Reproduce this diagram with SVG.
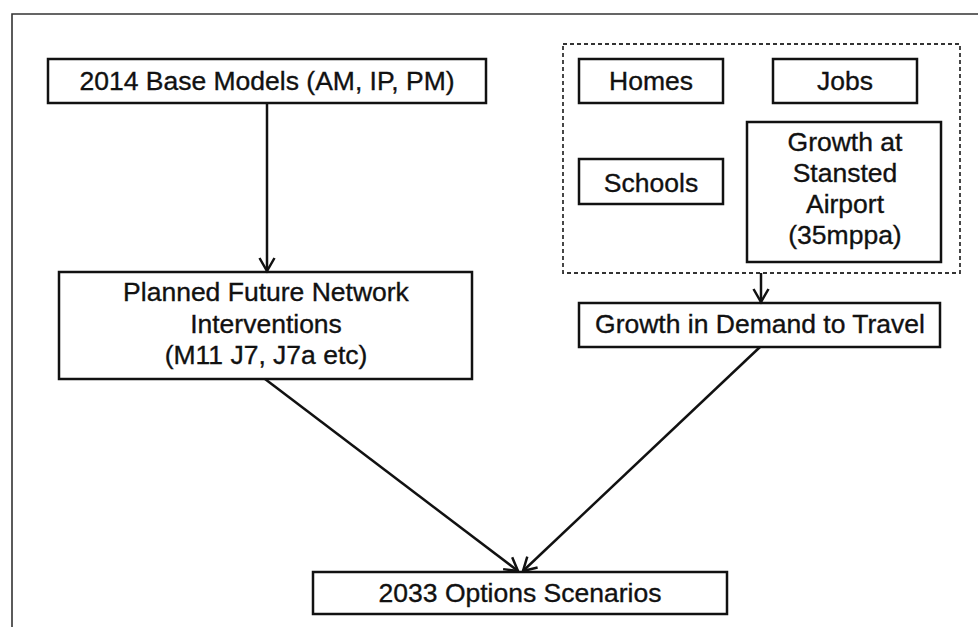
<svg xmlns="http://www.w3.org/2000/svg" width="978" height="627" viewBox="0 0 978 627">
<style>
.box{fill:#fff;stroke:#111;stroke-width:2.5}
.t{font-family:"Liberation Sans",Arial,sans-serif;font-size:26.5px;fill:#111;stroke:#111;stroke-width:0.35;text-anchor:middle}
.c{fill:none;stroke:#111;stroke-width:2.5}
.frame{fill:none;stroke:#333;stroke-width:1.6}
.dash{fill:none;stroke:#333;stroke-width:1.8;stroke-dasharray:4 3}
</style>
<defs>
<marker id="arr" markerWidth="18" markerHeight="18" refX="15" refY="9" orient="auto" markerUnits="userSpaceOnUse">
<path d="M2,1.5 L15,9 L2,16.5" fill="none" stroke="#111" stroke-width="2.5"/>
</marker>
</defs>
<rect width="978" height="627" fill="#fff"/>
<path class="frame" d="M12,627 V14 H978"/>
<g id="base"><rect class="box" x="48" y="59" width="438" height="44"/><text class="t" x="267" y="90">2014 Base Models (AM, IP, PM)</text></g>
<g id="planned"><rect class="box" x="59" y="272" width="413" height="107"/>
<text class="t" x="266" y="301">Planned Future Network</text>
<text class="t" x="266" y="333">Interventions</text>
<text class="t" x="266" y="364">(M11 J7, J7a etc)</text></g>
<g id="inputs"><rect class="dash" x="563" y="44" width="397" height="229"/></g>
<g id="homes"><rect class="box" x="579" y="59" width="144" height="44"/><text class="t" x="651" y="90">Homes</text></g>
<g id="jobs"><rect class="box" x="773" y="59" width="144" height="44"/><text class="t" x="845" y="90">Jobs</text></g>
<g id="schools"><rect class="box" x="579" y="159" width="144" height="45"/><text class="t" x="651" y="192">Schools</text></g>
<g id="airport"><rect class="box" x="747" y="122" width="194" height="140"/>
<text class="t" x="845" y="151">Growth at</text>
<text class="t" x="845" y="182">Stansted</text>
<text class="t" x="845" y="213">Airport</text>
<text class="t" x="845" y="244">(35mppa)</text></g>
<g id="demand"><rect class="box" x="579" y="303" width="361" height="44"/><text class="t" x="760" y="333">Growth in Demand to Travel</text></g>
<g id="scenarios"><rect class="box" x="313" y="572" width="414" height="42"/><text class="t" x="520" y="602">2033 Options Scenarios</text></g>
<g id="connectors">
<line class="c" x1="267" y1="103" x2="267" y2="271" marker-end="url(#arr)"/>
<line class="c" x1="761" y1="273" x2="761" y2="302" marker-end="url(#arr)"/>
<line class="c" x1="265" y1="379" x2="518" y2="571" marker-end="url(#arr)"/>
<line class="c" x1="760" y1="347" x2="523" y2="571" marker-end="url(#arr)"/>
</g>
</svg>
